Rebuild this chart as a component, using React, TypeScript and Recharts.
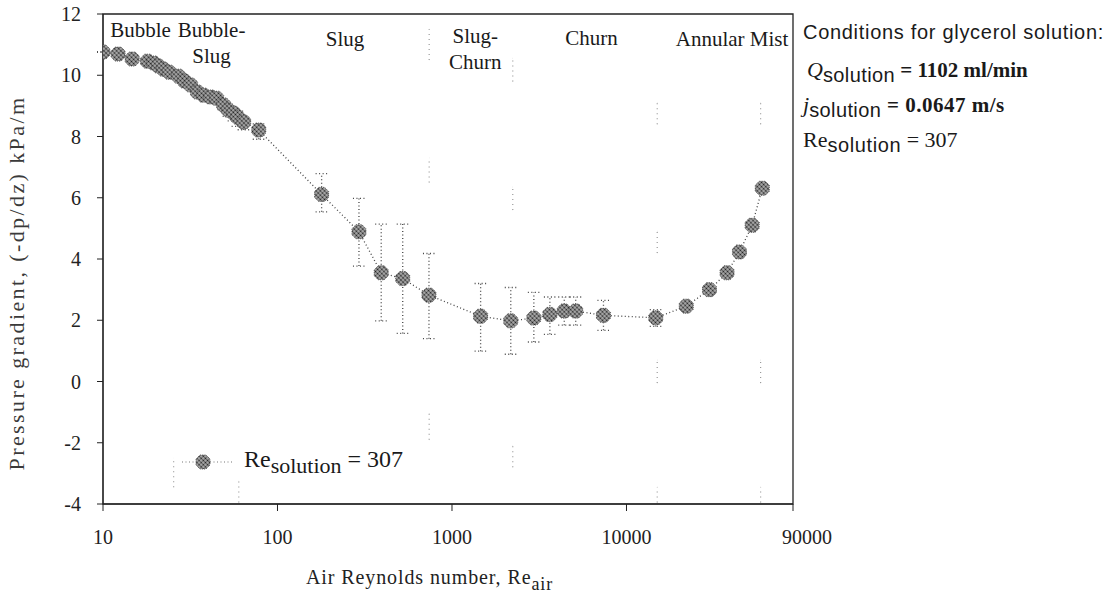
import { ScatterChart, Scatter, XAxis, YAxis, ErrorBar, ReferenceArea, ReferenceDot } from 'recharts';

// measured points, Re_solution = 307
const reAir = [
  10, 12.2, 14.7, 18.0, 19.5, 20.8, 22.2, 24.0, 27.1, 29.3, 31.8, 34.8, 37.7, 41.4, 44.8,
  49.1, 52.5, 56.1, 59.1, 64.0, 78.1, 179, 293, 393, 522, 738, 1459, 2172, 2945, 3639,
  4399, 5117, 7380, 14720, 22000, 29900, 37700, 44400, 52500, 60000,
];
const pressureGradient = [
  10.76, 10.69, 10.53, 10.46, 10.4, 10.3, 10.2, 10.1, 9.97, 9.81, 9.68, 9.45, 9.35, 9.29, 9.25,
  9.03, 8.86, 8.76, 8.63, 8.47, 8.21, 6.11, 4.89, 3.55, 3.36, 2.82, 2.13, 1.98, 2.07, 2.19,
  2.3, 2.3, 2.16, 2.08, 2.46, 3.0, 3.55, 4.23, 5.1, 6.31,
];
const errBelow = [
  0, 0, 0, 0, 0, 0, 0, 0, 0, 0, 0, 0, 0, 0, 0.1,
  0.15, 0.2, 0.25, 0.3, 0.25, 0.3, 0.57, 1.12, 1.57, 1.79, 1.42, 1.14, 1.09, 0.78, 0.65,
  0.46, 0.46, 0.49, 0.28, 0.1, 0.1, 0.1, 0.1, 0.1, 0.1,
];
const errAbove = [
  0, 0, 0, 0, 0, 0, 0, 0, 0, 0, 0, 0, 0, 0, 0.1,
  0.1, 0.15, 0.15, 0.2, 0.15, 0.2, 0.68, 1.09, 1.59, 1.78, 1.36, 1.07, 1.09, 0.84, 0.57,
  0.46, 0.46, 0.49, 0.27, 0.1, 0.1, 0.1, 0.1, 0.1, 0.1,
];

// faint dotted bars showing through from the scanned page
const ghostRe = [740, 740, 740, 2230, 2230, 2230, 15000, 15000, 15000, 15000, 58700, 58700, 58700, 25.4, 60];
const ghostLow = [10.5, 6.5, -1.9, 9.8, 5.6, -2.8, 8.4, 4.2, -0.05, -3.95, 8.4, -0.05, -3.95, -3.45, -3.95];
const ghostHigh = [11.5, 7.3, -1.05, 10.55, 6.35, -2.1, 9.1, 4.9, 0.7, -3.45, 9.1, 0.7, -3.45, -2.5, -3.25];

const xTicks = [10, 100, 1000, 10000, 90000];
const yTicks = [-4, -2, 0, 2, 4, 6, 8, 10, 12];

const regionText = ['Bubble', 'Bubble-\nSlug', 'Slug', 'Slug-\nChurn', 'Churn', 'Annular Mist'];
const regionRe = [16.4, 41.9, 244, 1361, 6310, 40270];
const regionY = [11.25, 11.25, 10.96, 11.05, 10.99, 10.96];

const points = reAir.map((x, i) => ({
  x,
  y: pressureGradient[i],
  err: [errBelow[i], errAbove[i]],
}));
const ghosts = ghostRe.map((x, i) => ({
  x,
  y: (ghostLow[i] + ghostHigh[i]) / 2,
  err: (ghostHigh[i] - ghostLow[i]) / 2,
}));

const serif = '"Liberation Serif", "Times New Roman", serif';
const sans = '"Liberation Sans", Arial, sans-serif';

function HalftoneMarker({ cx, cy }: any) {
  if (cx == null || cy == null) return null;
  const r = 7;
  const k = 3;
  const pts = [
    [cx - k, cy - r], [cx + k, cy - r], [cx + r, cy - k], [cx + r, cy + k],
    [cx + k, cy + r], [cx - k, cy + r], [cx - r, cy + k], [cx - r, cy - k],
  ].map((p) => p.join(',')).join(' ');
  return (
    <g>
      <defs>
        <pattern id="halftone" width="3" height="3" patternUnits="userSpaceOnUse" patternTransform="rotate(45)">
          <rect width="3" height="3" fill="#b4b4b4" />
          <circle cx="1.5" cy="1.5" r="1.1" fill="#1e1e1e" />
        </pattern>
      </defs>
      <polygon points={pts} fill="url(#halftone)" stroke="#444" strokeWidth={0.8} strokeDasharray="1.2 1" />
    </g>
  );
}

function XTick({ x, y, payload }: any) {
  const shift = payload.value === 90000 ? 14 : 0;
  return (
    <text x={x + shift} y={y + 31} textAnchor="middle" fontFamily={serif} fontSize={20} fill="#222">
      {payload.value}
    </text>
  );
}

function RegionLabel(props: any) {
  const { cx, cy, text } = props;
  const lines = String(text).split('\n');
  return (
    <text x={cx} y={cy} textAnchor="middle" fontFamily={serif} fontSize={21} fill="#1a1a1a">
      {lines.map((l, i) => (
        <tspan key={i} x={cx} dy={i === 0 ? 0 : 26}>
          {l}
        </tspan>
      ))}
    </text>
  );
}

function App() {
  return (
    <div style={{ position: 'absolute', left: 0, top: 0, width: 1111, height: 594, background: '#fff' }}>
      <ScatterChart width={1111} height={594} margin={{ top: 14, right: 318, bottom: 50, left: 33 }}>
        <XAxis
          type="number"
          dataKey="x"
          scale="log"
          domain={[10, 90000]}
          ticks={xTicks}
          allowDataOverflow
          height={40}
          tickSize={7}
          tick={<XTick />}
          stroke="#222"
          label={{
            content: () => (
              <text x={306} y={584} fontFamily={serif} fontSize={20} letterSpacing={0.9} fill="#222">
                Air Reynolds number,  Re
                <tspan dy={6} fontSize={18}>air</tspan>
              </text>
            ),
          }}
        />
        <YAxis
          type="number"
          dataKey="y"
          domain={[-4, 12]}
          ticks={yTicks}
          width={70}
          tickSize={6}
          tickMargin={16}
          stroke="#222"
          tick={{ fill: '#222', fontSize: 20, fontFamily: serif }}
          label={{
            content: () => (
              <text
                x={24}
                y={283}
                transform="rotate(-90 24 283)"
                textAnchor="middle"
                fontFamily={serif}
                fontSize={22}
                letterSpacing={2.4}
                fill="#3a3a3a"
              >
                Pressure gradient,  (-dp/dz) kPa/m
              </text>
            ),
          }}
        />
        <ReferenceArea x1={10} x2={90000} y1={-4} y2={12} fill="none" stroke="#222" strokeWidth={1.3} />
        <Scatter data={ghosts} shape={() => <g />} isAnimationActive={false}>
          <ErrorBar dataKey="err" direction="y" width={0} stroke="#9a9a9a" strokeWidth={1.2} strokeDasharray="1 4" />
        </Scatter>
        <Scatter
          data={points}
          shape={<HalftoneMarker />}
          line={{ stroke: '#444', strokeWidth: 1.3, strokeDasharray: '1 2.5' }}
          isAnimationActive={false}
        >
          <ErrorBar dataKey="err" direction="y" width={6} stroke="#444" strokeWidth={1.3} strokeDasharray="1 2.5" />
        </Scatter>
        {regionText.map((t, i) => (
          <ReferenceDot
            key={t}
            x={regionRe[i]}
            y={regionY[i]}
            r={0}
            shape={(p: any) => <RegionLabel {...p} text={t} />}
          />
        ))}
      </ScatterChart>

      {/* legend */}
      <div style={{ position: 'absolute', left: 180, top: 452, display: 'flex', alignItems: 'flex-start' }}>
        <svg width={54} height={20}>
          <line x1={2} y1={10} x2={52} y2={10} stroke="#777" strokeWidth={1.2} strokeDasharray="1 2.5" />
          <HalftoneMarker cx={23} cy={10} />
        </svg>
        <span style={{ fontFamily: serif, fontSize: 24, color: '#1a1a1a', marginLeft: 10, lineHeight: '24px', marginTop: -5 }}>
          Re<span style={{ position: 'relative', top: 6, fontSize: 22 }}>solution</span> = 307
        </span>
      </div>

      {/* conditions */}
      <div style={{ position: 'absolute', left: 803, top: 22, color: '#1a1a1a', lineHeight: 1 }}>
        <div style={{ fontFamily: sans, fontSize: 20, letterSpacing: 0.7, whiteSpace: 'nowrap' }}>
          Conditions for glycerol solution:
        </div>
        <div style={{ marginTop: 17, whiteSpace: 'nowrap', fontFamily: serif, fontSize: 21, fontWeight: 'bold' }}>
          <span style={{ fontStyle: 'italic', fontWeight: 'normal', fontSize: 22, marginLeft: 4 }}>Q</span>
          <span style={{ fontFamily: sans, fontWeight: 'normal', fontSize: 20, letterSpacing: 0.4, position: 'relative', top: 5 }}>solution</span>
          <span> = 1102 ml/min</span>
        </div>
        <div style={{ marginTop: 13, whiteSpace: 'nowrap', fontFamily: serif, fontSize: 21, fontWeight: 'bold' }}>
          <span style={{ fontStyle: 'italic', fontWeight: 'normal', fontSize: 22 }}>j</span>
          <span style={{ fontFamily: sans, fontWeight: 'normal', fontSize: 20, letterSpacing: 0.4, position: 'relative', top: 5 }}>solution</span>
          <span style={{ letterSpacing: 0.5 }}> = 0.0647 m/s</span>
        </div>
        <div style={{ marginTop: 13, whiteSpace: 'nowrap', fontFamily: serif, fontSize: 22 }}>
          <span>Re</span>
          <span style={{ fontFamily: sans, fontSize: 20, letterSpacing: 0.6, position: 'relative', top: 5 }}>solution</span>
          <span> = 307</span>
        </div>
      </div>
    </div>
  );
}

export default App;
